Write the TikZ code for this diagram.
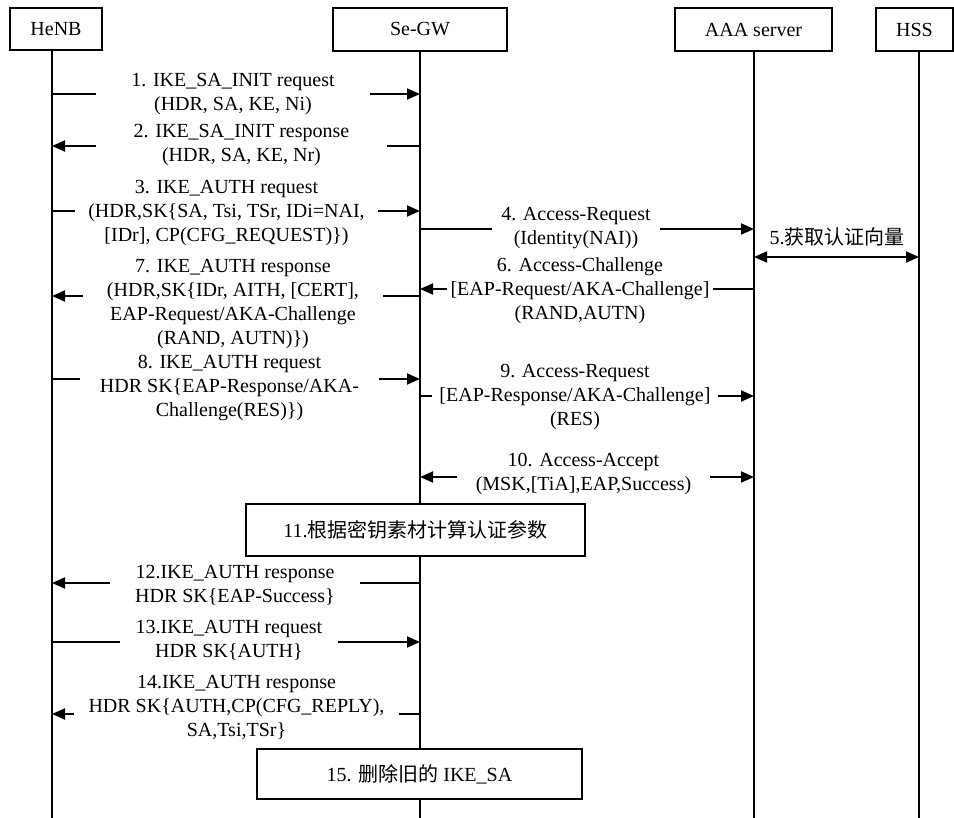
\documentclass[tikz,border=0pt]{standalone}
\usepackage{fontspec}
\setmainfont{Liberation Serif}
\newfontfamily\cjk{Noto Sans CJK SC}
\usetikzlibrary{arrows.meta}

\begin{document}
\begin{tikzpicture}
[x=1pt,y=-1pt,
font=\fontsize{20}{24}\selectfont,
box/.style={draw,line width=1.6pt,inner sep=0pt},
life/.style={line width=2.6pt},
msg/.style={line width=1.8pt,-{Triangle[length=13pt,width=11pt]}},
dbl/.style={line width=1.8pt,{Triangle[length=13pt,width=11pt]}-{Triangle[length=13pt,width=11pt]}},
lbl/.style={fill=white,align=center,inner xsep=0pt,inner ysep=1pt}]

\useasboundingbox (0,0) rectangle (954,818);

% entities
\node[box,minimum width=92pt,minimum height=42pt] (henb) at (56,29) {HeNB};
\node[box,minimum width=174pt,minimum height=43pt] (segw) at (420,29.5) {Se-GW};
\node[box,minimum width=157pt,minimum height=43pt] (aaa) at (753.5,29.5) {AAA server};
\node[box,minimum width=77pt,minimum height=43pt] (hss) at (914.5,29.5) {HSS};

% lifelines
\coordinate (lh) at (52,50);
\coordinate (ls) at (420,51);
\coordinate (la) at (754,51);
\coordinate (lhs) at (919,51);
\foreach \l in {lh,ls,la,lhs}
  \draw[life] (\l) -- (\l |- 0,818);

% 1, 2
\draw[msg] (lh |- 0,94) -- (ls |- 0,94);
\node[lbl,minimum width=274pt] (m1) at (233,94) {1. IKE\_SA\_INIT request\\(HDR, SA, KE, Ni)};
\draw[msg] (ls |- 0,146) -- (lh |- 0,146);
\node[lbl,minimum width=291pt] (m2) at (241.5,145) {2. IKE\_SA\_INIT response\\(HDR, SA, KE, Nr)};

% 3, 4, 5
\draw[msg] (lh |- 0,211) -- (ls |- 0,211);
\node[lbl,minimum width=303pt] (m3) at (226.5,213) {3. IKE\_AUTH request\\(HDR,SK\{SA, Tsi, TSr, IDi=NAI,\\{[}IDr], CP(CFG\_REQUEST)\})};
\draw[msg] (ls |- 0,229) -- (la |- 0,229);
\node[lbl,minimum width=168pt] (m4) at (576,228) {4. Access-Request\\(Identity(NAI))};
\draw[dbl] (la |- 0,257) -- (lhs |- 0,257);
\node (m5) at (837,237) {5.{\cjk 获取认证向量}};

% 6, 7
\draw[msg] (la |- 0,289) -- (ls |- 0,289);
\node[lbl,minimum width=266pt] (m6) at (580,291) {6. Access-Challenge\\{[}EAP-Request/AKA-Challenge]\\(RAND,AUTN)};
\draw[msg] (ls |- 0,296) -- (lh |- 0,296);
\node[lbl,minimum width=300pt] (m7) at (233,304) {7. IKE\_AUTH response\\(HDR,SK\{IDr, AITH, [CERT],\\EAP-Request/AKA-Challenge\\(RAND, AUTN)\})};

% 8, 9, 10
\draw[msg] (lh |- 0,379) -- (ls |- 0,379);
\node[lbl,minimum width=299pt] (m8) at (229.5,388) {8. IKE\_AUTH request\\HDR SK\{EAP-Response/AKA-\\Challenge(RES)\})};
\draw[msg] (ls |- 0,396) -- (la |- 0,396);
\node[lbl,minimum width=286pt] (m9) at (575,397) {9. Access-Request\\{[}EAP-Response/AKA-Challenge]\\(RES)};
\draw[dbl] (ls |- 0,477) -- (la |- 0,477);
\node[lbl,minimum width=253pt] (m10) at (583.5,473.5) {10. Access-Accept\\(MSK,[TiA],EAP,Success)};

% 11
\node[box,fill=white,minimum width=339pt,minimum height=52pt] (m11) at (415.5,530) {11.{\cjk 根据密钥素材计算认证参数}};

% 12, 13, 14
\draw[msg] (ls |- 0,583) -- (lh |- 0,583);
\node[lbl,minimum width=250pt] (m12) at (235,585) {12.IKE\_AUTH response\\HDR SK\{EAP-Success\}};
\draw[msg] (lh |- 0,642) -- (ls |- 0,642);
\node[lbl,minimum width=218pt] (m13) at (229,640) {13.IKE\_AUTH request\\HDR SK\{AUTH\}};
\draw[msg] (ls |- 0,714) -- (lh |- 0,714);
\node[lbl,minimum width=325pt] (m14) at (236.5,707) {14.IKE\_AUTH response\\HDR SK\{AUTH,CP(CFG\_REPLY),\\SA,Tsi,TSr\}};

% 15
\node[box,fill=white,minimum width=325pt,minimum height=50pt] (m15) at (419.5,774) {15. {\cjk 删除旧的} IKE\_SA};
\end{tikzpicture}
\end{document}
